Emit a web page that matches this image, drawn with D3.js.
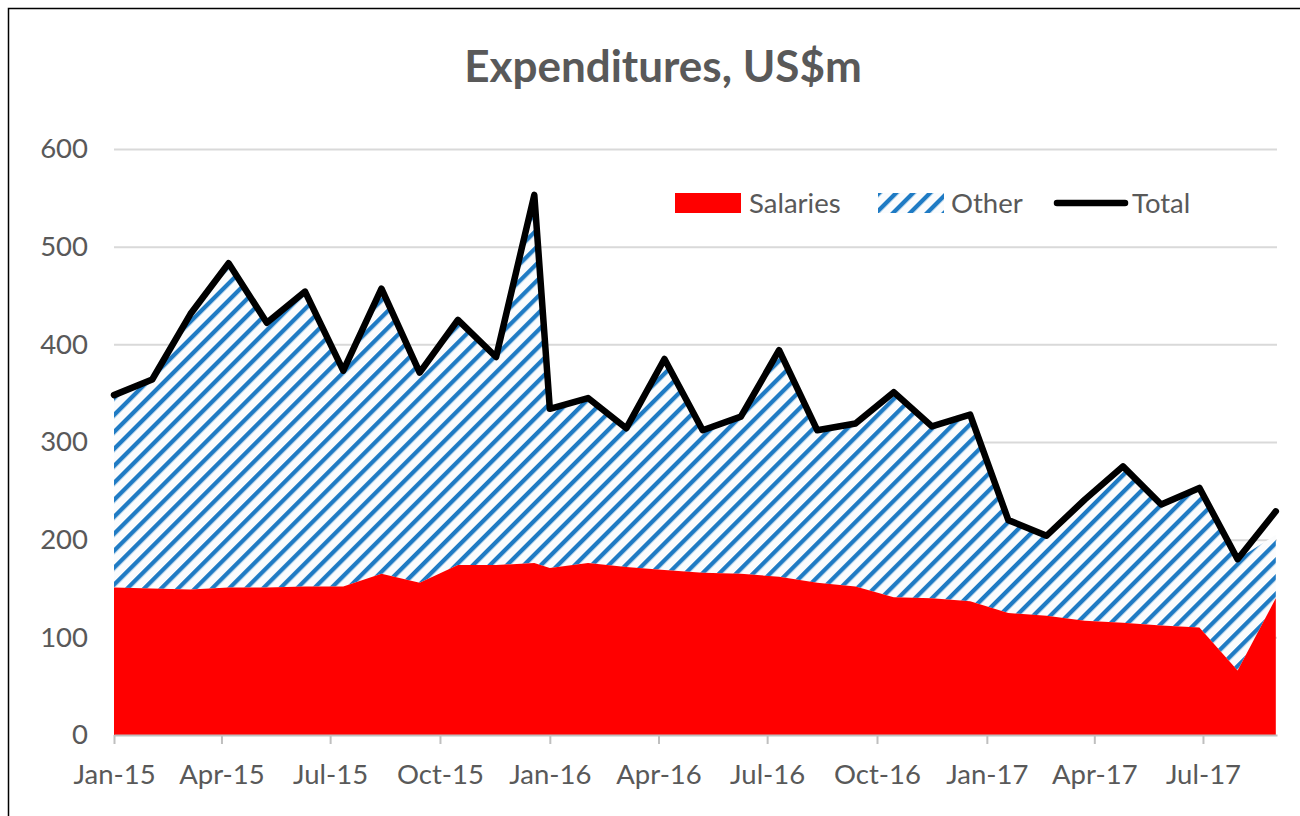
<!DOCTYPE html>
<html>
<head>
<meta charset="utf-8">
<script src="https://cdn.jsdelivr.net/npm/d3@7/dist/d3.min.js"></script>
<style>
  html, body { margin: 0; padding: 0; background: #fff; }
  svg { display: block; }
</style>
</head>
<body>
<svg id="chart" width="1300" height="816"></svg>
<script>
// ---- data ----
const dates = [
  "2015-01-01","2015-02-02","2015-03-06","2015-04-07","2015-05-09","2015-06-10",
  "2015-07-12","2015-08-13","2015-09-14","2015-10-16","2015-11-17","2015-12-19",
  "2016-01-01","2016-02-02","2016-03-05","2016-04-06","2016-05-08","2016-06-09",
  "2016-07-11","2016-08-12","2016-09-13","2016-10-15","2016-11-16","2016-12-18",
  "2017-01-19","2017-02-20","2017-03-24","2017-04-25","2017-05-27","2017-06-28",
  "2017-07-30","2017-08-31"
];
const salaries = [151,150,149,151,151,152,152,165,156,174,174,176,
                  171,176,172,169,166,165,162,156,152,141,140,137,
                  125,122,117,115,112,110,66,140];
const other    = [197,214,282,332,271,302,222,292,215,252,213,377,
                  163,169,142,216,146,161,232,156,167,210,176,191,
                  95,82,124,160,124,143,114,65];
const total    = [348,364,431,483,422,454,373,457,371,425,387,553,
                  334,345,314,385,312,326,394,312,319,351,316,328,
                  220,204,241,275,236,253,180,229];
const yTicks = [0,100,200,300,400,500,600];
const seriesNames = ["Salaries","Other","Total"];
const title = "Expenditures, US$m";
const xStart = "2015-01-01", xEnd = "2017-09-01";

// ---- layout ----
const svg = d3.select("#chart");
const W = 1300, H = 816;
const m = {left: 114, right: 1277, top: 149, bottom: 735};
const FONT = "Lato, 'Open Sans', sans-serif";
const GREY = "#595959";
const FS = 27.5;

const parse = d3.timeParse("%Y-%m-%d");
const rows = dates.map((d,i) => ({date: parse(d), sal: salaries[i], oth: other[i], tot: total[i]}));

const x = d3.scaleTime().domain([parse(xStart), parse(xEnd)]).range([m.left, m.right]);
const y = d3.scaleLinear().domain([0, 600]).range([m.bottom, m.top]);

// frame
svg.append("rect").attr("x", 8.5).attr("y", 8.5).attr("width", W).attr("height", H)
  .attr("fill", "#fff").attr("stroke", "#000").attr("stroke-width", 1.5);

// hatch pattern
const defs = svg.append("defs");
function makeHatch(id) {
  const p = defs.append("pattern").attr("id", id).attr("patternUnits", "userSpaceOnUse")
    .attr("width", 12).attr("height", 12)
    .attr("patternTransform", "rotate(45)");
  p.append("rect").attr("width", 12).attr("height", 12).attr("fill", "#fbfcfd");
  p.append("rect").attr("x", 0).attr("y", 0).attr("width", 4.3).attr("height", 12).attr("fill", "#1f7bc4");
}
makeHatch("hatch");
makeHatch("hatchL");

// clip
defs.append("clipPath").attr("id", "plotclip").append("rect")
  .attr("x", m.left).attr("y", m.top - 40).attr("width", m.right - m.left).attr("height", m.bottom - m.top + 40);

// title
svg.append("text").attr("x", 663).attr("y", 82).attr("text-anchor", "middle")
  .attr("font-family", FONT).attr("font-weight", "bold").attr("font-size", 44)
  .attr("fill", GREY).text(title);

// gridlines
const grid = svg.append("g").attr("transform", `translate(${m.left},0)`)
  .call(d3.axisLeft(y).tickValues(yTicks.filter(v => v > 0)).tickSize(-(m.right - m.left)).tickFormat(""));
grid.select(".domain").remove();
grid.selectAll("line").attr("stroke", "#d9d9d9").attr("stroke-width", 2);

// y labels
const yAx = svg.append("g").attr("transform", `translate(${m.left},0)`)
  .call(d3.axisLeft(y).tickValues(yTicks).tickSize(0).tickPadding(26));
yAx.select(".domain").remove();
yAx.selectAll("text").attr("font-family", FONT).attr("font-size", FS).attr("fill", GREY);

// areas
const plot = svg.append("g").attr("clip-path", "url(#plotclip)");
const areaSal = d3.area().x(d => x(d.date)).y0(y(0)).y1(d => y(d.sal));
const areaOth = d3.area().x(d => x(d.date)).y0(d => y(d.sal)).y1(d => y(d.sal + d.oth));
plot.append("path").datum(rows).attr("d", areaOth).attr("fill", "url(#hatch)");
plot.append("path").datum(rows).attr("d", areaSal).attr("fill", "#ff0000");

// x axis
const xAx = svg.append("g").attr("transform", `translate(0,${m.bottom})`)
  .call(d3.axisBottom(x).ticks(d3.timeMonth.every(3)).tickFormat(d3.timeFormat("%b-%y"))
    .tickSize(9).tickSizeOuter(0).tickPadding(20));
xAx.select(".domain").attr("stroke", "#bfbfbf").attr("stroke-width", 2);
xAx.selectAll("line").attr("stroke", "#bfbfbf").attr("stroke-width", 2);
xAx.selectAll("text").attr("font-family", FONT).attr("font-size", FS).attr("fill", GREY);

// total line
const line = d3.line().x(d => x(d.date)).y(d => y(d.tot));
svg.append("path").datum(rows).attr("d", line).attr("fill", "none")
  .attr("stroke", "#000").attr("stroke-width", 6.5).attr("stroke-linejoin", "round").attr("stroke-linecap", "round");

// legend
const lg = svg.append("g");
const ly = 203;
lg.append("rect").attr("x", 675).attr("y", ly - 10).attr("width", 66).attr("height", 20).attr("fill", "#ff0000");
lg.append("text").attr("x", 749).attr("y", ly + 10).text(seriesNames[0]);
lg.append("rect").attr("x", 878).attr("y", ly - 10).attr("width", 66).attr("height", 20).attr("fill", "url(#hatchL)");
lg.append("text").attr("x", 951).attr("y", ly + 10).text(seriesNames[1]);
lg.append("line").attr("x1", 1057).attr("x2", 1125).attr("y1", ly).attr("y2", ly)
  .attr("stroke", "#000").attr("stroke-width", 6.5).attr("stroke-linecap", "round");
lg.append("text").attr("x", 1132).attr("y", ly + 10).text(seriesNames[2]);
lg.selectAll("text").attr("font-family", FONT).attr("font-size", FS).attr("fill", GREY);
</script>
</body>
</html>
